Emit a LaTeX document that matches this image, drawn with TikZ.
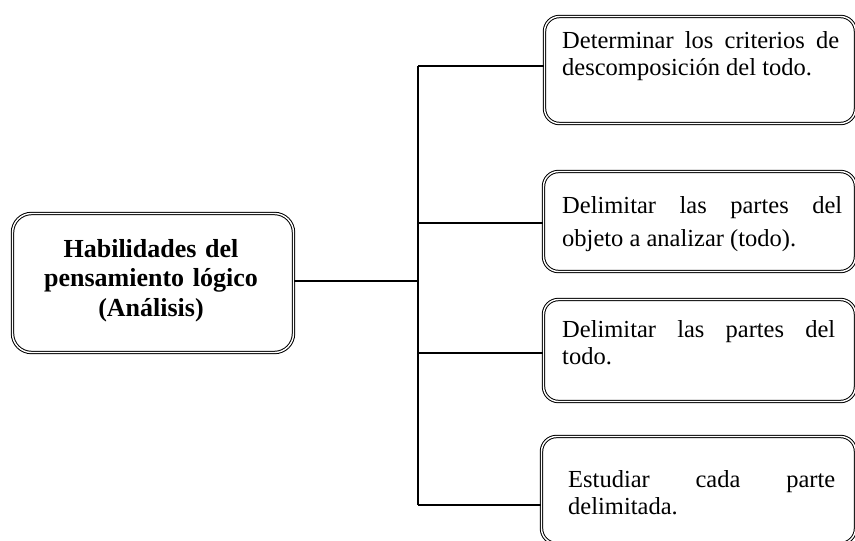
\documentclass[tikz,border=0pt]{standalone}
\usepackage{fontspec}
\setmainfont{Liberation Serif}
\hyphenpenalty=10000
\exhyphenpenalty=10000
\tolerance=10000
\begin{document}
\begin{tikzpicture}[x=1pt,y=-1pt,
  frame/.style={draw, line width=1pt, double, double distance=1.4pt,
    rounded corners=#1, inner sep=0pt, minimum width=\pgfkeysvalueof{/tikz/bw}, minimum height=\pgfkeysvalueof{/tikz/bh}},
  bw/.initial=10pt, bh/.initial=10pt,
  link/.style={draw, line width=1.2pt},
  boxtext/.style={anchor=base west, inner sep=0pt, align=justify,
    font=\fontsize{24.5}{27}\selectfont},
  headtext/.style={anchor=base, inner sep=0pt, align=center, text width=270pt,
    font=\bfseries\fontsize{26}{29.5}\selectfont}
]
\useasboundingbox (0,0) rectangle (855,541);
\clip (0,0) rectangle (855,541);

% boxes
\node[frame=19pt, bw=281pt, bh=139pt] (main) at (153,283) {};
\node[frame=15pt, bw=311pt, bh=107pt] (b1) at (700,70) {};
\node[frame=15pt, bw=312pt, bh=100pt] (b2) at (699.5,221.5) {};
\node[frame=15pt, bw=312pt, bh=102pt] (b3) at (699.5,350.5) {};
\node[frame=15pt, bw=314pt, bh=107pt] (b4) at (698.5,490) {};

% texts
\node[headtext] (mt) at (151,257) {Habilidades del\\pensamiento lógico\\(Análisis)};
\node[boxtext, text width=277pt] (t1) at (562,48)
  {Determinar los criterios de\linebreak descomposición del todo.};
\node[boxtext, text width=280pt, font=\fontsize{24.5}{33.5}\selectfont] (t2) at (562,213)
  {Delimitar las partes del\linebreak objeto a analizar (todo).};
\node[boxtext, text width=273pt] (t3) at (562,337)
  {Delimitar las partes del\linebreak todo.};
\node[boxtext, text width=267pt] (t4) at (568,487)
  {Estudiar cada parte\linebreak delimitada.};

% connectors
\coordinate (s1) at (418,66);
\coordinate (s2) at (418,223);
\coordinate (s3) at (418,353);
\coordinate (s4) at (418,505);
\draw[link] (main.east |- 0,281) -- (s1 |- 0,281);
\draw[link] (s1) -- (s4);
\draw[link] (s1) -- (s1 -| b1.west);
\draw[link] (s2) -- (s2 -| b2.west);
\draw[link] (s3) -- (s3 -| b3.west);
\draw[link] (s4) -- (s4 -| b4.west);
\end{tikzpicture}
\end{document}
